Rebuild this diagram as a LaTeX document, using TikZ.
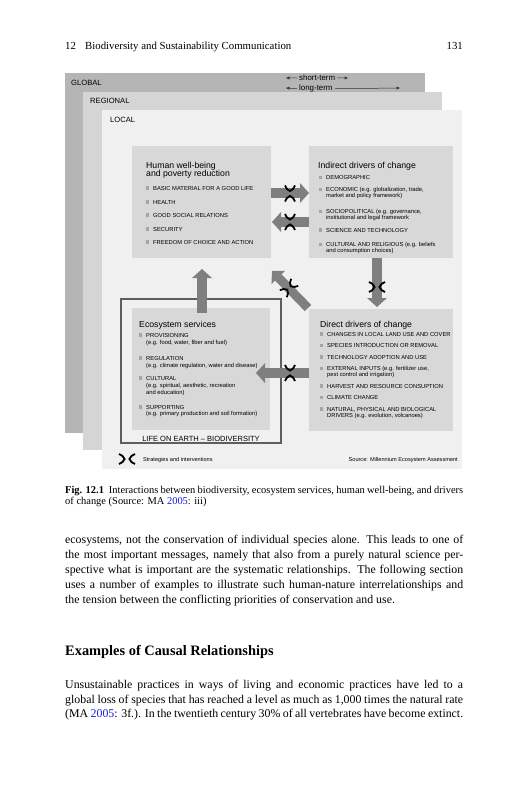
\documentclass[tikz,border=0pt]{standalone}
\usepackage{fontspec}
\setmainfont{Liberation Serif}
\newfontfamily\dsans{Liberation Sans}
\usetikzlibrary{arrows.meta}
\definecolor{gGlobal}{HTML}{B5B5B5}
\definecolor{gRegional}{HTML}{D5D5D5}
\definecolor{gLocal}{HTML}{F0F0F0}
\definecolor{gBox}{HTML}{D8D8D8}
\definecolor{gArrow}{HTML}{7F7F7F}
\definecolor{gBullet}{HTML}{A5A5A5}
\definecolor{gFrame}{HTML}{5E5E5E}
\definecolor{linkblue}{HTML}{1A1AE6}
\newcommand\fitem{\dsans\fontsize{5.8}{6.5}\selectfont}
\newcommand\ftitle{\dsans\fontsize{8.7}{9}\selectfont}
\newcommand\flevel{\dsans\fontsize{7.6}{8}\selectfont}
\newcommand\fterm{\dsans\fontsize{7.9}{8}\selectfont}
\newcommand\flife{\dsans\fontsize{7.5}{8}\selectfont}
\newcommand\fsmall{\dsans\fontsize{5.6}{6}\selectfont}
\newcommand\fbody{\fontsize{11.85}{14}\selectfont}
\newcommand\fcap{\fontsize{10.45}{12}\selectfont}
\newcommand\fhead{\fontsize{10.8}{12}\selectfont}
\newcommand\fsec{\bfseries\fontsize{14.4}{16}\selectfont}
\newcommand\jl[1]{\hbox to 398pt{#1}}
\newcommand\itm[4]{\fill[gBullet] (#2-7.3,#3-3.7) rectangle ++(3.4,3.4); \node[itx] (#1) at (#2,#3) {#4};}
\newcommand\lin[4]{\node[itx] (#1) at (#2,#3) {#4};}
\begin{document}
\begin{tikzpicture}[x=1pt,y=-1pt,
  panel/.style={anchor=north west, inner sep=0, outer sep=0, draw=none},
  itx/.style={anchor=base west, inner sep=0, font=\fitem},
  ttl/.style={anchor=base west, inner sep=0, font=\ftitle},
  lvl/.style={anchor=base west, inner sep=0, font=\flevel},
  body/.style={anchor=base west, inner sep=0, font=\fbody},
  fat/.style={draw=gArrow, line width=10pt, -{Triangle[width=20pt,length=9pt,line width=0pt]}},
  small arrow/.style={draw=black!80, line width=0.5pt, -{Triangle[width=3pt,length=3.5pt,line width=0pt]}},
  blk/.pic={
    \draw[line width=1.8pt] (-8,-5) .. controls (-5.5,-4.2) and (-3.2,-2.4) .. (-2.4,0) .. controls (-3.2,2.4) and (-5.5,4.2) .. (-8,5);
    \draw[line width=1.8pt] (8,-5) .. controls (5.5,-4.2) and (3.2,-2.4) .. (2.4,0) .. controls (3.2,2.4) and (5.5,4.2) .. (8,5);
  }]
\useasboundingbox (0,0) rectangle (527,800);
\fill[white] (0,0) rectangle (527,800);

% running head
\node[body,font=\fhead] (hnum) at (65,50) {12};
\node[body,font=\fhead] (htitle) at (85,50) {Biodiversity and Sustainability Communication};
\node[anchor=base east, inner sep=0, font=\fhead] (hpage) at (463,50) {131};

% level panels
\node[panel, fill=gGlobal, minimum width=360pt, minimum height=360pt] (global) at (65,73) {};
\node[panel, fill=gRegional, minimum width=359pt, minimum height=358pt] (regional) at (83,92) {};
\node[panel, fill=gLocal, minimum width=360pt, minimum height=359pt] (local) at (102,110) {};
\node[lvl] (lg) at (71,85) {GLOBAL};
\node[lvl] (lr) at (90,103.5) {REGIONAL};
\node[lvl] (ll) at (110,122) {LOCAL};

% time scale
\node[anchor=base west, inner xsep=2pt, inner ysep=0, font=\fterm] (st) at (297,80.8) {short-term};
\node[anchor=base west, inner xsep=2pt, inner ysep=0, font=\fterm] (lt) at (297,90.8) {long-term};
\coordinate (stL) at (286,78); \coordinate (stR) at (348,78);
\coordinate (ltL) at (286,88); \coordinate (ltR) at (400,88);
\draw[small arrow] (st.west) -- (stL);
\draw[small arrow] (st.east) -- (stR);
\draw[small arrow] (lt.west) -- (ltL);
\draw[small arrow] (lt.east) -- (ltR);

% boxes
\node[panel, fill=gBox, minimum width=139pt, minimum height=112pt] (hw) at (132,146) {};
\node[panel, fill=gBox, minimum width=144pt, minimum height=112pt] (ind) at (309,146) {};
\node[panel, draw=gFrame, line width=1.3pt, minimum width=160pt, minimum height=144pt] (frame) at (121,299) {};
\node[panel, fill=gBox, minimum width=138pt, minimum height=122pt] (eco) at (132,308) {};
\node[panel, fill=gBox, minimum width=144pt, minimum height=122pt] (dir) at (309,309) {};

% human well-being
\node[ttl] (hwt1) at (146,168) {Human well-being};
\node[ttl] (hwt2) at (146,176.5) {and poverty reduction};
\itm{h1}{153}{190}{BASIC MATERIAL FOR A GOOD LIFE}
\itm{h2}{153}{204}{HEALTH}
\itm{h3}{153}{217}{GOOD SOCIAL RELATIONS}
\itm{h4}{153}{231}{SECURITY}
\itm{h5}{153}{244}{FREEDOM OF CHOICE AND ACTION}

% indirect drivers
\node[ttl] (indt) at (318,168) {Indirect drivers of change};
\itm{i1}{326}{179.7}{DEMOGRAPHIC}
\itm{i2}{326}{191.3}{ECONOMIC (e.g. globalization, trade,}
\lin{i2b}{326}{197.3}{market and policy framework)}
\itm{i3}{326}{213.7}{SOCIOPOLITICAL (e.g. governance,}
\lin{i3b}{326}{219.7}{institutional and legal framework}
\itm{i4}{326}{232}{SCIENCE AND TECHNOLOGY}
\itm{i5}{326}{246.3}{CULTURAL AND RELIGIOUS (e.g. beliefs}
\lin{i5b}{326}{252.3}{and consumption choices)}

% ecosystem services
\node[ttl] (ecot) at (139,327) {Ecosystem services};
\itm{e1}{146}{337}{PROVISIONING}
\lin{e1b}{146}{344}{(e.g. food, water, fiber and fuel)}
\itm{e2}{146}{360}{REGULATION}
\lin{e2b}{146}{367}{(e.g. climate regulation, water and disease)}
\itm{e3}{146}{380}{CULTURAL}
\lin{e3b}{146}{387}{(e.g. spiritual, aesthetic, recreation}
\lin{e3c}{146}{394}{and education)}
\itm{e4}{146}{409}{SUPPORTING}
\lin{e4b}{146}{415.5}{(e.g. primary production and soil formation)}
\node[anchor=base, inner sep=0, font=\flife] (life) at (201,441) {LIFE ON EARTH – BIODIVERSITY};

% direct drivers
\node[ttl] (dirt) at (320,327) {Direct drivers of change};
\itm{d1}{327}{336}{CHANGES IN LOCAL LAND USE AND COVER}
\itm{d2}{327}{347.5}{SPECIES INTRODUCTION OR REMOVAL}
\itm{d3}{327}{359}{TECHNOLOGY ADOPTION AND USE}
\itm{d4}{327}{370.5}{EXTERNAL INPUTS (e.g. fertilizer use,}
\lin{d4b}{327}{376.5}{pest control and irrigation)}
\itm{d5}{327}{388}{HARVEST AND RESOURCE CONSUPTION}
\itm{d6}{327}{399.5}{CLIMATE CHANGE}
\itm{d7}{327}{411}{NATURAL, PHYSICAL AND BIOLOGICAL}
\lin{d7b}{327}{417}{DRIVERS (e.g. evolution, volcanoes)}

% fat arrows
\coordinate (a1s) at (271,193); \coordinate (a1e) at (309,193);
\coordinate (a2s) at (309,222); \coordinate (a2e) at (272,222);
\coordinate (a3s) at (202,313); \coordinate (a3e) at (202,269);
\coordinate (a4s) at (308,308); \coordinate (a4e) at (272,271);
\coordinate (a5s) at (377,258); \coordinate (a5e) at (377,307);
\coordinate (a6s) at (309,373); \coordinate (a6e) at (256,373);
\draw[fat] (a1s) -- (a1e);
\draw[fat] (a2s) -- (a2e);
\draw[fat] (a3s) -- (a3e);
\draw[fat, line width=9pt, -{Triangle[width=19pt,length=9pt,line width=0pt]}] (a4s) -- (a4e);
\draw[fat] (a5s) -- (a5e);
\draw[fat] (a6s) -- (a6e);

% strategies and interventions marks
\pic[rotate=90] at (290,193.5) {blk};
\pic[rotate=90] at (290,222) {blk};
\pic[rotate=45] at (289,288) {blk};
\pic at (377,287) {blk};
\pic[rotate=90] at (290,373) {blk};

% legend and source
\pic at (127,459) {blk};
\node[anchor=base west, inner sep=0, font=\fsmall] (legend) at (143,461) {Strategies and interventions};
\node[anchor=base east, inner sep=0, font=\fsmall] (source) at (458,461) {Source: Millennium Ecosystem Assessment};

% caption
\node[body,font=\fcap] (cap1) at (65,493) {\jl{\textbf{Fig. 12.1}\hspace{5pt}Interactions between biodiversity, ecosystem services, human well-being, and drivers}};
\node[body,font=\fcap] (cap2) at (65,504.5) {of change (Source: MA \textcolor{linkblue}{2005}: iii)};

% body text
\node[body] (p1) at (65,543) {\jl{ecosystems, not the conservation of individual species alone. This leads to one of}};
\node[body] (p2) at (65,558) {\jl{the most important messages, namely that also from a purely natural science per-}};
\node[body] (p3) at (65,573) {\jl{spective what is important are the systematic relationships. The following section}};
\node[body] (p4) at (65,588) {\jl{uses a number of examples to illustrate such human-nature interrelationships and}};
\node[body] (p5) at (65,603) {the tension between the conflicting priorities of conservation and use.};

\node[body,font=\fsec] (sec) at (65,655) {Examples of Causal Relationships};

\node[body] (q1) at (65,688) {\jl{Unsustainable practices in ways of living and economic practices have led to a}};
\node[body] (q2) at (65,703) {\jl{global loss of species that has reached a level as much as 1,000 times the natural rate}};
\node[body] (q3) at (65,717.5) {\jl{(MA \textcolor{linkblue}{2005}: 3f.). In the twentieth century 30\% of all vertebrates have become extinct.}};
\end{tikzpicture}
\end{document}
